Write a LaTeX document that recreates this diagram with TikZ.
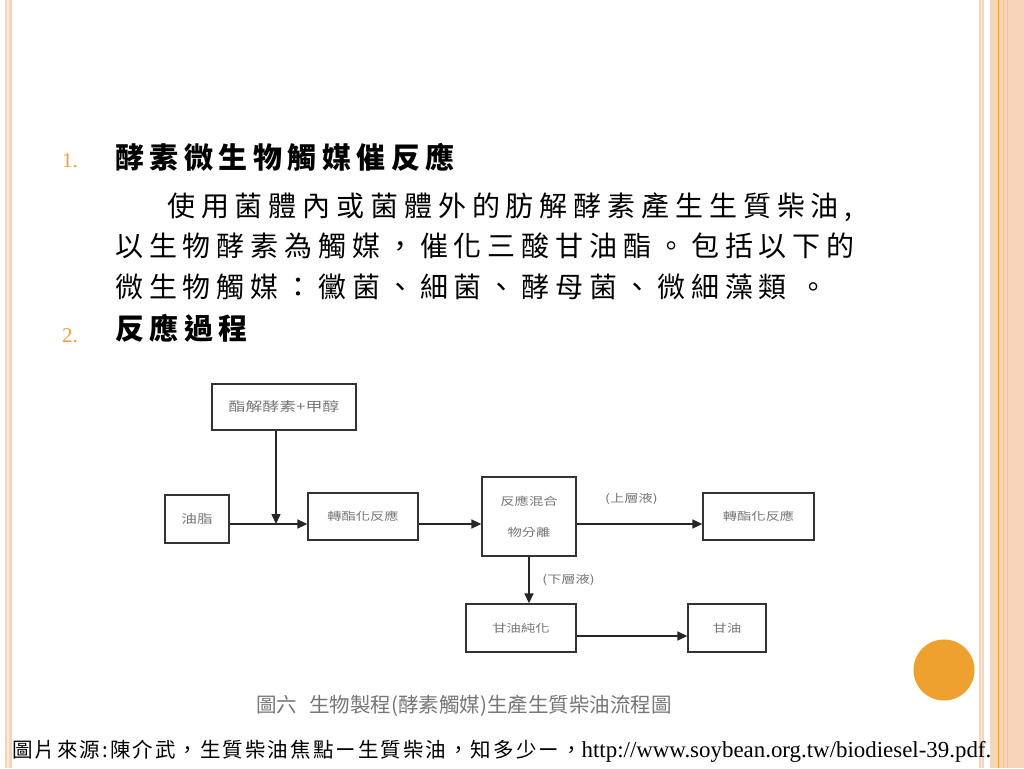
\documentclass[tikz,border=0pt]{standalone}
\usepackage{fontspec}
\usepackage{tikz}
\usetikzlibrary{arrows.meta}
\setmainfont{Liberation Serif}
\newfontfamily\headfont[LetterSpace=19]{Noto Sans CJK TC}
\newfontfamily\bodyfont[LetterSpace=21]{Noto Sans CJK TC}
\newfontfamily\notefont[LetterSpace=10]{Noto Sans CJK TC}
\newfontfamily\capfont{Noto Sans CJK TC}
\newfontfamily\figfont[FakeStretch=1.3]{Noto Sans CJK TC}
\definecolor{peach}{RGB}{248,212,186}
\definecolor{pale}{RGB}{253,236,222}
\definecolor{peachline}{RGB}{240,192,156}
\definecolor{accent}{RGB}{238,161,46}
\definecolor{numcol}{RGB}{231,160,72}
\definecolor{figtext}{RGB}{118,118,118}
\tikzset{
	box/.style={draw=black!80, line width=1.3pt, rectangle, inner sep=0pt, text=figtext, align=center,
		font=\figfont\fontsize{11}{31}\selectfont},
	flow/.style={-{Triangle[length=10pt,width=9pt]}, line width=1.5pt, black!85},
	txt/.style={inner sep=0pt, anchor=base west},
	lbl/.style={inner sep=0pt, text=figtext, font=\figfont\fontsize{11}{13}\selectfont},
}

\begin{document}
\begin{tikzpicture}[x=1pt, y=-1pt]
	\useasboundingbox (0,0) rectangle (1024,768);
	\fill[peach] (5,0) rectangle (12,768);
	\fill[pale] (7,0) rectangle (9,768);
	\fill[peach] (979,0) rectangle (983.5,768);
	\fill[pale] (980.5,0) rectangle (982,768);
	\fill[peach] (990,0) rectangle (1024,768);
	\draw[accent, line width=1.2pt] (998.5,0) -- (998.5,768);
	\draw[peachline, line width=0.8pt] (1003,0) -- (1003,768) (1007,0) -- (1007,768);
	\fill[accent] (944,670) circle (30.5);

	\node[txt, text=numcol, font=\fontsize{21}{24}\selectfont] (num1) at (62,167) {1.};
	\node[txt, font=\headfont\bfseries\fontsize{29}{34}\selectfont] (head1) at (115,168) {酵素微生物觸媒催反應};
	\node[txt, align=left, font=\bodyfont\fontsize{28}{40.5}\selectfont] (body) at (115,297)
		{\hspace*{52pt}使用菌體內或菌體外的肪解酵素產生生質柴油,\\
		以生物酵素為觸媒，催化三酸甘油酯。包括以下的\\
		微生物觸媒：黴菌、細菌、酵母菌、微細藻類 。};
	\node[txt, text=numcol, font=\fontsize{21}{24}\selectfont] (num2) at (62,342) {2.};
	\node[txt, font=\headfont\bfseries\fontsize{29}{34}\selectfont] (head2) at (115,339) {反應過程};

	\node[box, minimum width=144pt, minimum height=46pt, font=\figfont\fontsize{13}{16}\selectfont] (enz) at (284,407) {酯解酵素+甲醇};
	\node[box, minimum width=64pt, minimum height=48pt, font=\figfont\fontsize{12}{15}\selectfont] (oil) at (197,519) {油脂};
	\node[box, minimum width=110pt, minimum height=47pt] (trans) at (363,516.5) {轉酯化反應};
	\node[box, minimum width=94pt, minimum height=79pt] (mix) at (529,516.5) {反應混合\\物分離};
	\node[box, minimum width=111pt, minimum height=47pt] (biod) at (758.5,516.5) {轉酯化反應};
	\node[box, minimum width=110pt, minimum height=48pt] (purify) at (521,628) {甘油純化};
	\node[box, minimum width=78pt, minimum height=48pt] (glyc) at (727,628) {甘油};
	\coordinate (join) at (276,524);
	\coordinate (lower) at (0,636);

	\path[flow]
	(enz.south -| join) edge (join)
	(oil.east |- join) edge (trans.west |- join)
	(trans.east |- join) edge (mix.west |- join)
	(mix.east |- join) edge node[lbl, above=18.5pt, xshift=-8pt]{(上層液)} (biod.west |- join)
	(mix.south) edge node[lbl, right=12.5pt]{(下層液)} (mix.south |- purify.north)
	(purify.east |- lower) edge (glyc.west |- lower);

	\node[text=figtext, inner sep=0pt, font=\capfont\fontsize{20.5}{24}\selectfont] (caption) at (464,706)
		{圖六\hspace{12pt}生物製程(酵素觸媒)生產生質柴油流程圖};
	\node[txt] (source) at (12,757)
		{\notefont\fontsize{20.5}{24}\selectfont 圖片來源:陳介武，生質柴油焦點ー生質柴油，知多少ー，\rmfamily\fontsize{22.9}{26}\selectfont http://www.soybean.org.tw/biodiesel-39.pdf.};
\end{tikzpicture}
\end{document}
